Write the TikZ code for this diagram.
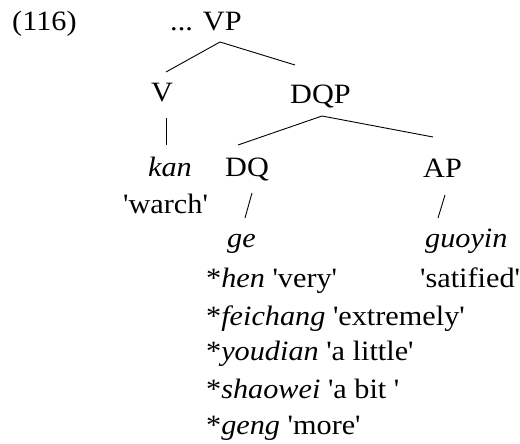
\documentclass[tikz,border=0pt]{standalone}
\usepackage{fontspec}
\setmainfont{Liberation Serif}[
  FakeStretch=1.08,
  Ligatures=TeXOff,
  ItalicFont=Liberation Serif Italic,
  ItalicFeatures={FakeStretch=1.08}]
\begin{document}
\begin{tikzpicture}[x=1pt,y=-1pt,
  lbl/.style={anchor=base west,inner sep=0pt,font=\fontsize{28}{33}\selectfont},
  branch/.style={line width=0.9pt}]
\useasboundingbox (0,0) rectangle (520,444);
% labels
\node[lbl] (ex)   at (12,31)  {(116)};
\node[lbl] (vp)   at (170,31) {... VP};
\node[lbl] (v)    at (151,102) {V};
\node[lbl] (dqp)  at (290,103) {DQP};
\node[lbl] (kan)  at (148,176) {\textit{kan}};
\node[lbl] (dq)   at (225,176) {DQ};
\node[lbl] (ap)   at (423,177) {AP};
\node[lbl] (warch) at (123,213) {'warch'};
\node[lbl] (ge)   at (227,247) {\textit{ge}};
\node[lbl] (guoyin) at (425,247) {\textit{guoyin}};
\node[lbl] (hen)  at (206,287) {*\textit{hen} 'very'};
\node[lbl] (satified) at (420,287) {'satified'};
\node[lbl] (feichang) at (206,325) {*\textit{feichang} 'extremely'};
\node[lbl] (youdian)  at (206,360) {*\textit{youdian} 'a little'};
\node[lbl] (shaowei)  at (206,398) {*\textit{shaowei} 'a bit '};
\node[lbl] (geng)     at (206,434) {*\textit{geng} 'more'};
% branch end points
\coordinate (vp-b)  at (220,42);
\coordinate (v-t)   at (166,72);
\coordinate (dqp-t) at (295,65);
\coordinate (v-b)   at (166,118);
\coordinate (kan-t) at (166,145);
\coordinate (dqp-b) at (322,116);
\coordinate (dq-t)  at (238,145);
\coordinate (ap-t)  at (433,137);
\coordinate (dq-b)  at (252,193);
\coordinate (ge-t)  at (245,218);
\coordinate (ap-b)  at (445,195);
\coordinate (guoyin-t) at (438,218);
% branches
\draw[branch] (v-t) -- (vp-b) -- (dqp-t);
\draw[branch] (v-b) -- (kan-t);
\draw[branch] (dq-t) -- (dqp-b) -- (ap-t);
\draw[branch] (dq-b) -- (ge-t);
\draw[branch] (ap-b) -- (guoyin-t);
\end{tikzpicture}
\end{document}
